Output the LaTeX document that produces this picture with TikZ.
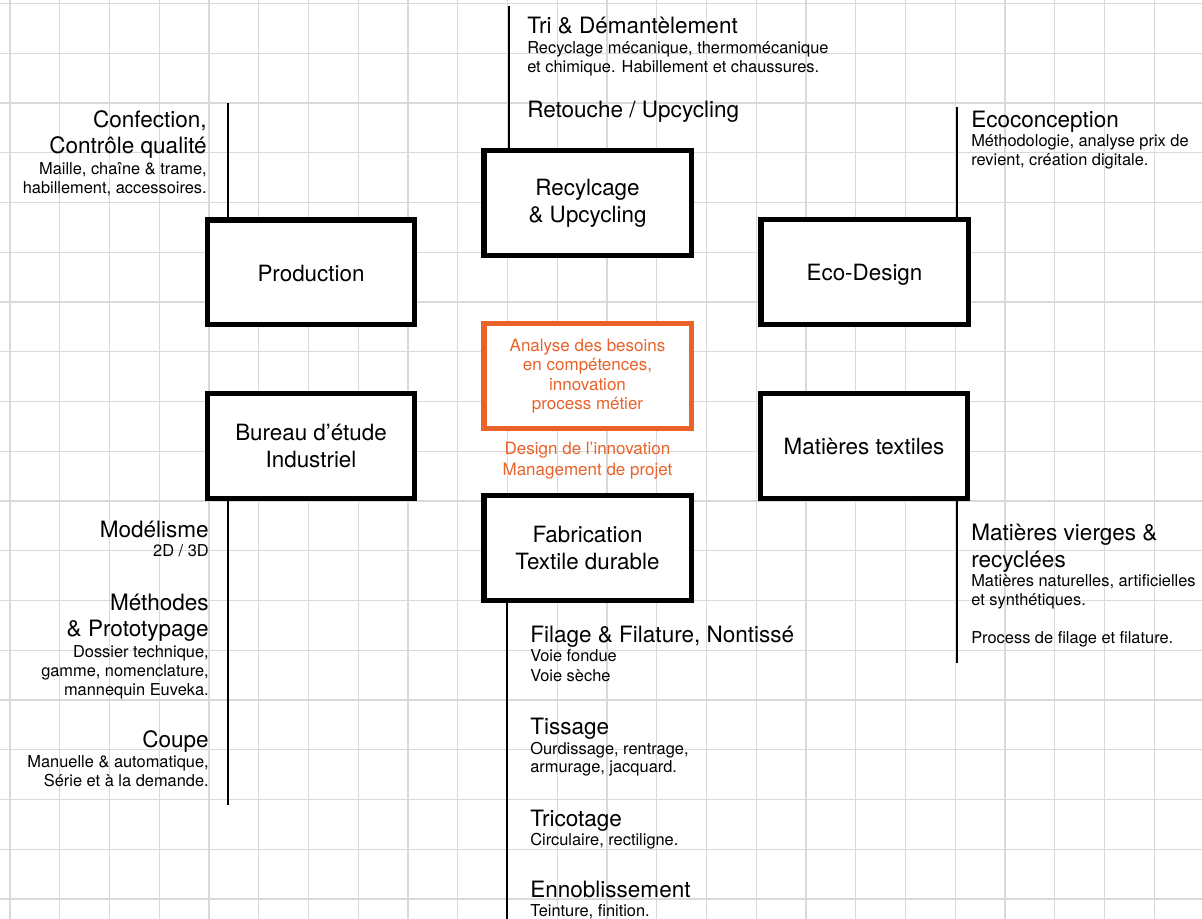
\documentclass[tikz,border=0pt]{standalone}
\usepackage{fontspec}
\setmainfont{TeX Gyre Heros}
\definecolor{gridgrey}{HTML}{D9D9D9}
\definecolor{accent}{HTML}{E9622A}
\tikzset{
  gridline/.style={draw=gridgrey, line width=1pt},
  stem/.style={draw=black, line width=1.7pt},
  box/.style={draw=black, line width=4.1pt, fill=white, minimum width=155.6pt,
    minimum height=78.4pt, inner sep=0pt, align=center, font=\fontsize{16.8}{20}\selectfont},
  onebox/.style={box, text height=15pt, text depth=1.5pt},
  obox/.style={box, draw=accent, text=accent, font=\fontsize{12.75}{14.6}\selectfont},
  big/.style={inner sep=0pt, font=\fontsize{16.9}{20}\selectfont},
  small/.style={inner sep=0pt, font=\fontsize{12.3}{14}\selectfont},
  otext/.style={inner sep=0pt, text=accent, font=\fontsize{12.75}{15}\selectfont, anchor=base},
  lt/.style={anchor=base east},
  rt/.style={anchor=base west}
}
\begin{document}
\begin{tikzpicture}[x=0.75pt,y=-0.75pt]
\useasboundingbox (0,0) rectangle (1202,919);
\fill[white] (0,0) rectangle (1202,919);
% grid
\foreach \i in {0,...,24} \draw[gridline] ({10+49.75*\i},0) -- ({10+49.75*\i},919);
\foreach \j in {0,...,18} \draw[gridline] (0,{3.5+49.75*\j}) -- (1202,{3.5+49.75*\j});

% boxes
\node[box] (rec) at (587.5,203) {Recylcage\\\& Upcycling};
\node[onebox] (prod) at (311,272.5) {Production};
\node[onebox] (eco) at (864.5,272) {Eco-Design};
\node[obox] (ana) at (587.5,376) {Analyse des besoins\\en compétences,\\innovation\\process métier};
\node[box] (bur) at (311,446) {Bureau d’étude\\Industriel};
\node[onebox] (mat) at (864,446) {Matières textiles};
\node[box] (fab) at (587.5,548) {Fabrication\\Textile durable};

% stems
\coordinate (prodstem) at (228,103);
\coordinate (recstem) at (509,6);
\coordinate (ecostem) at (957,107);
\coordinate (burstem) at (228,805);
\coordinate (matstem) at (957,663);
\coordinate (fabstem) at (507,919);
\draw[stem] (prodstem) -- (prodstem |- prod.north);
\draw[stem] (recstem) -- (recstem |- rec.north);
\draw[stem] (ecostem) -- (ecostem |- eco.north);
\draw[stem] (bur.south -| burstem) -- (burstem);
\draw[stem] (mat.south -| matstem) -- (matstem);
\draw[stem] (fab.south -| fabstem) -- (fabstem);

% Production texts
\node[big,lt] (conf1) at (207,128) {Confection,};
\node[big,lt] (conf2) at (207,154) {Contrôle qualité};
\node[small,lt] (conf3) at (207,174.7) {Maille, chaîne \& trame,};
\node[small,lt] (conf4) at (207,193.3) {habillement, accessoires.};

% Bureau texts
\node[big,lt] (mod1) at (209,537.3) {Modélisme};
\node[small,lt] (mod2) at (209,556) {2D / 3D};
\node[big,lt] (met1) at (209,610.7) {Méthodes};
\node[big,lt] (met2) at (209,636) {\& Prototypage};
\node[small,lt] (met3) at (209,657.3) {Dossier technique,};
\node[small,lt] (met4) at (209,676) {gamme, nomenclature,};
\node[small,lt] (met5) at (209,695) {mannequin Euveka.};
\node[big,lt] (cou1) at (209,747.3) {Coupe};
\node[small,lt] (cou2) at (209,767.7) {Manuelle \& automatique,};
\node[small,lt] (cou3) at (209,786.7) {Série et à la demande.};

% Recyclage texts
\node[big,rt] (tri1) at (527,33.3) {Tri \& Démantèlement};
\node[small,rt] (tri2) at (527,53.3) {Recyclage mécanique, thermomécanique};
\node[small,rt] (tri3) at (527,72.7) {et chimique. Habillement et chaussures.};
\node[big,rt] (ret1) at (527,117.3) {Retouche / Upcycling};

% Eco texts
\node[big,rt] (ec1) at (971,127.3) {Ecoconception};
\node[small,rt] (ec2) at (971,146.7) {Méthodologie, analyse prix de};
\node[small,rt] (ec3) at (971,165.7) {revient, création digitale.};

% Matieres texts
\node[big,rt] (mv1) at (971,540.7) {Matières vierges \&};
\node[big,rt] (mv2) at (971,567.3) {recyclées};
\node[small,rt] (mv3) at (971,586.7) {Matières naturelles, artificielles};
\node[small,rt] (mv4) at (971,605.3) {et synthétiques.};
\node[small,rt] (mv5) at (971,643.3) {Process de filage et filature.};

% Fabrication texts
\node[big,rt] (fi1) at (530,642.7) {Filage \& Filature, Nontissé};
\node[small,rt] (fi2) at (530,661.7) {Voie fondue};
\node[small,rt] (fi3) at (530,681) {Voie sèche};
\node[big,rt] (ti1) at (530,734) {Tissage};
\node[small,rt] (ti2) at (530,754) {Ourdissage, rentrage,};
\node[small,rt] (ti3) at (530,772.7) {armurage, jacquard.};
\node[big,rt] (tr1) at (530,826.7) {Tricotage};
\node[small,rt] (tr2) at (530,845.7) {Circulaire, rectiligne.};
\node[big,rt] (en1) at (530,897.7) {Ennoblissement};
\node[small,rt] (en2) at (530,916.7) {Teinture, finition.};

% orange caption
\node[otext] (des1) at (587.5,455) {Design de l’innovation};
\node[otext] (des2) at (587.5,475) {Management de projet};
\end{tikzpicture}
\end{document}
